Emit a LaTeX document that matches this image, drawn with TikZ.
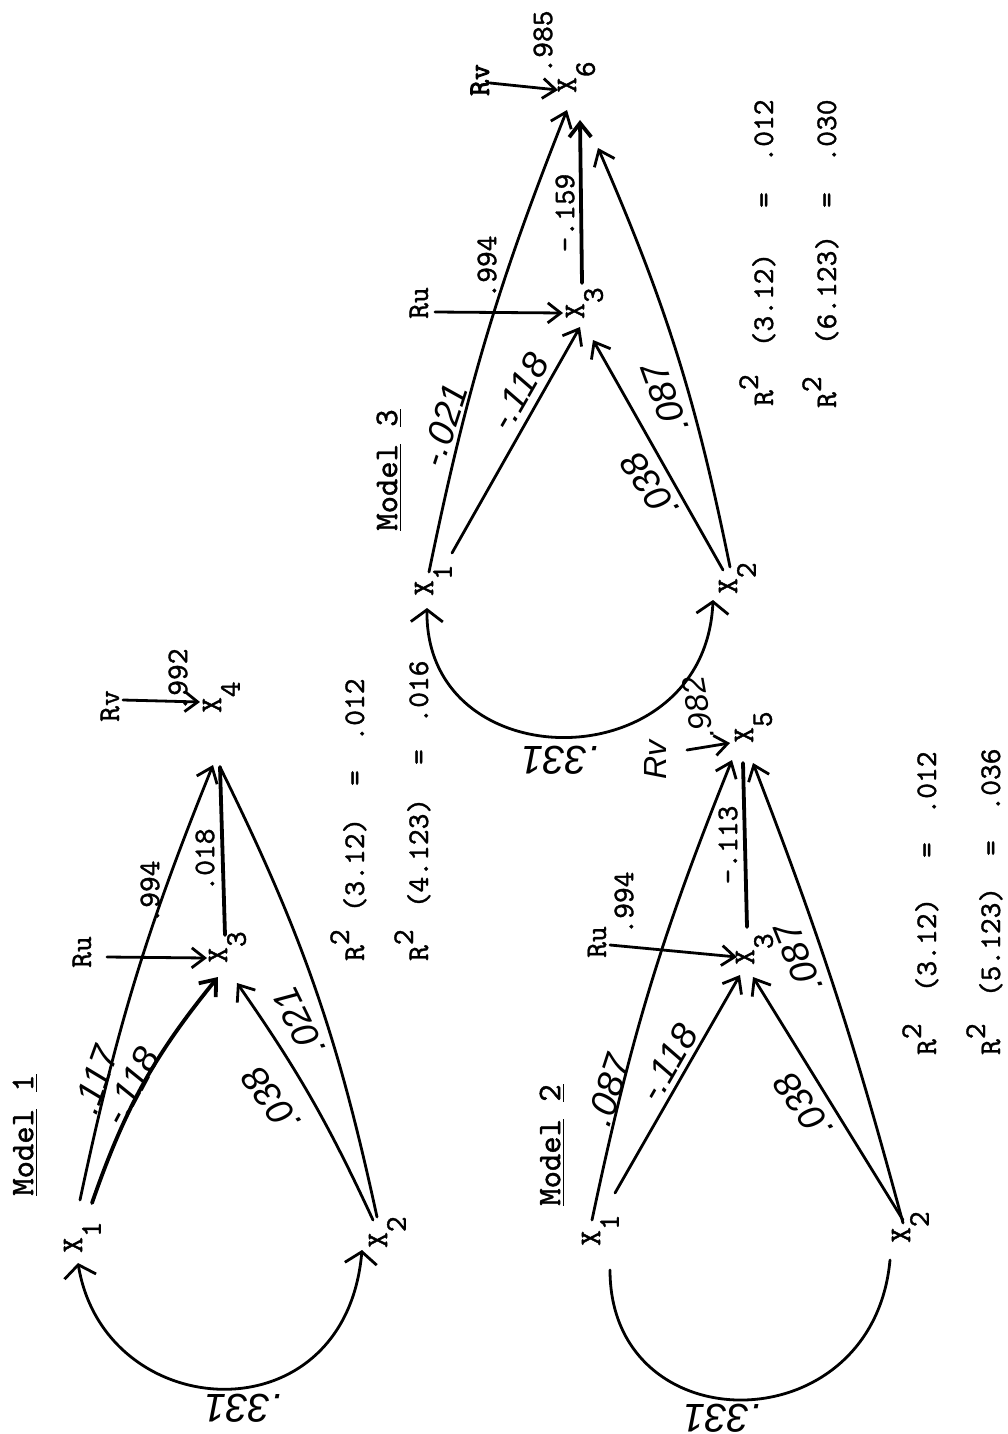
\documentclass[tikz,border=0pt]{standalone}
\usepackage{fontspec}
\newfontfamily\handfont{Liberation Sans}
\newfontfamily\typer{lmmono10-regular.otf}[FakeBold=1.2]
\newfontfamily\typerb{lmmono10-regular.otf}[FakeBold=3]
\usetikzlibrary{arrows.meta,calc}
\newcommand\Xs[1]{X\rlap{\smash{\raisebox{-0.62em}{#1}}}}
\newcommand\Rsq{R\rlap{\smash{\raisebox{0.5em}{2}}}}
\newcommand\rline[7]{%
  \node[ttb] at (#1,#2) {\Rsq};
  \node[ttb] at (#1,#3) {#6};
  \node[ttb] at (#1,#4) {=};
  \node[ttb] at (#1,#5) {#7};}
\begin{document}
\begin{tikzpicture}[x=0.5pt,y=-0.5pt,
  tt/.style={font=\fontsize{15}{18}\selectfont\typer, inner sep=0pt, rotate=90},
  ttb/.style={tt, anchor=base},
  mlab/.style={font=\fontsize{16.5}{19}\selectfont\typer, inner sep=0pt, rotate=90},
  hand/.style={font=\fontsize{18.5}{22}\selectfont\handfont\itshape, inner sep=0pt},
  bighand/.style={font=\fontsize{20}{24}\selectfont\handfont\itshape, inner sep=0pt},
  smallhand/.style={font=\fontsize{16}{19}\selectfont\handfont\itshape, inner sep=0pt},
  ln/.style={line width=1.4pt, line cap=round},
  thk/.style={line width=1.9pt, line cap=round},
  arr/.style={ln, -{Straight Barb[length=7pt,width=11pt]}},
  rarr/.style={ln, -{Straight Barb[length=6.5pt,width=10pt]}},
  thkarr/.style={thk, -{Straight Barb[length=7pt,width=11pt]}},
  twoarr/.style={ln, {Straight Barb[length=6pt,width=16pt]}-{Straight Barb[length=6pt,width=16pt]}}
]
\useasboundingbox (0,0) rectangle (1007,1434);

% ================= Model 1 =================
\node[mlab] (m1lab) at (25,1135) {\underline{Model}\ \underline{1}};
\node[tt] (m1x1) at (73,1245) {\Xs{1}};
\node[tt] (m1x2) at (378,1240) {\Xs{2}};
\node[tt] (m1x3) at (218,955) {\Xs{3}};
\node[tt] (m1x4) at (212,705) {\Xs{4}};
\node[tt] (m1ru) at (82,952) {Ru};
\node[tt] (m1rv) at (110,706) {Rv};
\node[tt] (m1e4) at (178,680) {.992};
\node[tt] (m1e3) at (150,892) {.994};
\node[tt] (m1p34) at (205,860) {.018};

\draw[rarr] ([shift={(25,5)}]m1ru.center) -- ([shift={(-11,3)}]m1x3.center);
\draw[rarr] ([shift={(13,-6)}]m1rv.center) -- ([shift={(-12,-3)}]m1x4.center);
\draw[thkarr] ([shift={(19,-42)}]m1x1.center) to[bend left=10] ([shift={(0,22)}]m1x3.center);
\draw[arr] ([shift={(7,-45)}]m1x1.center) to[bend left=5] ([shift={(1,60)}]m1x4.center);
\draw[thk] ([shift={(7,-20)}]m1x3.center) -- ([shift={(8,62)}]m1x4.center);
\draw[arr] ([shift={(-5,-20)}]m1x2.center) to[bend right=5] ([shift={(19,28)}]m1x3.center);
\draw[ln] ([shift={(-1,-23)}]m1x2.center) to[bend right=7] ([shift={(8,62)}]m1x4.center);
\draw[twoarr] ([shift={(5,18)}]m1x1.center) .. controls (105,1425) and (345,1440) .. ([shift={(-16,10)}]m1x2.center);

\node[hand, rotate=70] at (96,1080) {.117};
\node[hand, rotate=62] at (131,1086) {-.118};
\node[hand, rotate=126] at (271,1100) {.038};
\node[hand, rotate=116] at (299,1022) {.021};
\node[bighand, rotate=180] at (243,1408) {.331};

\rline{364}{953}{865}{778}{710}{(3.12)}{.012}
\rline{428}{953}{853}{757}{692}{(4.123)}{.016}

% ================= Model 2 =================
\node[mlab] (m2lab) at (552,1145) {\underline{Model}\ \underline{2}};
\node[tt] (m2x1) at (591,1238) {\Xs{1}};
\node[tt] (m2x2) at (901,1235) {\Xs{2}};
\node[tt] (m2x3) at (745,957) {\Xs{3}};
\node[tt] (m2x5) at (744,735) {\Xs{5}};
\node[tt] (m2ru) at (597,942) {Ru};
\node[tt] (m2e3) at (624,903) {.994};
\node[tt] (m2p35) at (728,845) {-.113};
\node[smallhand, rotate=90] (m2rv) at (655,760) {Rv};
\node[smallhand, rotate=100] (m2e5) at (698,708) {.982};

\draw[rarr] ([shift={(13,3)}]m2ru.center) -- ([shift={(-8,0)}]m2x3.center);
\draw[rarr] ([shift={(32,-10)}]m2rv.center) -- ([shift={(-14,8)}]m2x5.center);
\draw[arr] ([shift={(1,-18)}]m2x1.center) to[bend left=5] ([shift={(-12,25)}]m2x5.center);
\draw[arr] ([shift={(24,-45)}]m2x1.center) -- ([shift={(-5,18)}]m2x3.center);
\draw[arr] ([shift={(2,-15)}]m2x2.center) -- ([shift={(8,20)}]m2x3.center);
\draw[arr] ([shift={(2,-12)}]m2x2.center) to[bend right=3] ([shift={(9,28)}]m2x5.center);
\draw[thk] ([shift={(2,-30)}]m2x3.center) -- ([shift={(-1,28)}]m2x5.center);
\draw[ln] ([shift={(19,32)}]m2x1.center) .. controls (610,1445) and (873,1445) .. ([shift={(-11,25)}]m2x2.center);

\node[hand, rotate=72] at (609,1090) {.087};
\node[hand, rotate=60] at (668,1063) {-.118};
\node[hand, rotate=125] at (803,1106) {.038};
\node[hand, rotate=112] at (798,958) {.087};
\node[bighand, rotate=180] at (722,1418) {.331};

\rline{936}{1047}{945}{850}{783}{(3.12)}{.012}
\rline{1000}{1047}{942}{848}{780}{(5.123)}{.036}

% ================= Model 3 =================
\node[mlab] (m3lab) at (389,470) {\underline{Model}\ \underline{3}};
\node[tt] (m3x1) at (424,588) {\Xs{1}};
\node[tt] (m3x2) at (728,586) {\Xs{2}};
\node[tt] (m3x3) at (575,311) {\Xs{3}};
\node[tt] (m3x6) at (567,85) {\Xs{6}};
\node[tt] (m3ru) at (419,303) {Ru};
\node[tt] (m3rv) at (480,80) {\typerb Rv};
\node[tt] (m3e3) at (487,267) {.994};
\node[tt] (m3p36) at (565,213) {-.159};
\node[tt] (m3e6) at (543,42) {.985};

\draw[rarr] ([shift={(16,9)}]m3ru.center) -- ([shift={(-12,2)}]m3x3.center);
\draw[rarr] ([shift={(10,3)}]m3rv.center) -- ([shift={(-9,5)}]m3x6.center);
\draw[arr] ([shift={(5,-16)}]m3x1.center) to[bend left=5] ([shift={(0,25)}]m3x6.center);
\draw[arr] ([shift={(28,-35)}]m3x1.center) -- ([shift={(5,16)}]m3x3.center);
\draw[arr] ([shift={(-5,-16)}]m3x2.center) -- ([shift={(18,29)}]m3x3.center);
\draw[arr] ([shift={(2,-19)}]m3x2.center) to[bend right=6] ([shift={(31,63)}]m3x6.center);
\draw[thkarr] ([shift={(7,-28)}]m3x3.center) -- ([shift={(13,35)}]m3x6.center);
\draw[twoarr] ([shift={(3,20)}]m3x1.center) .. controls (425,781) and (705,781) .. ([shift={(-15,14)}]m3x2.center);

\node[hand, rotate=72] at (444,425) {-.021};
\node[hand, rotate=60] at (519,392) {-.118};
\node[hand, rotate=124] at (650,486) {.038};
\node[hand, rotate=110] at (665,398) {.087};
\node[bighand, rotate=180] at (560,760) {.331};

\rline{773}{398}{300}{200}{131}{(3.12)}{.012}
\rline{836}{400}{290}{200}{131}{(6.123)}{.030}
\end{tikzpicture}
\end{document}
